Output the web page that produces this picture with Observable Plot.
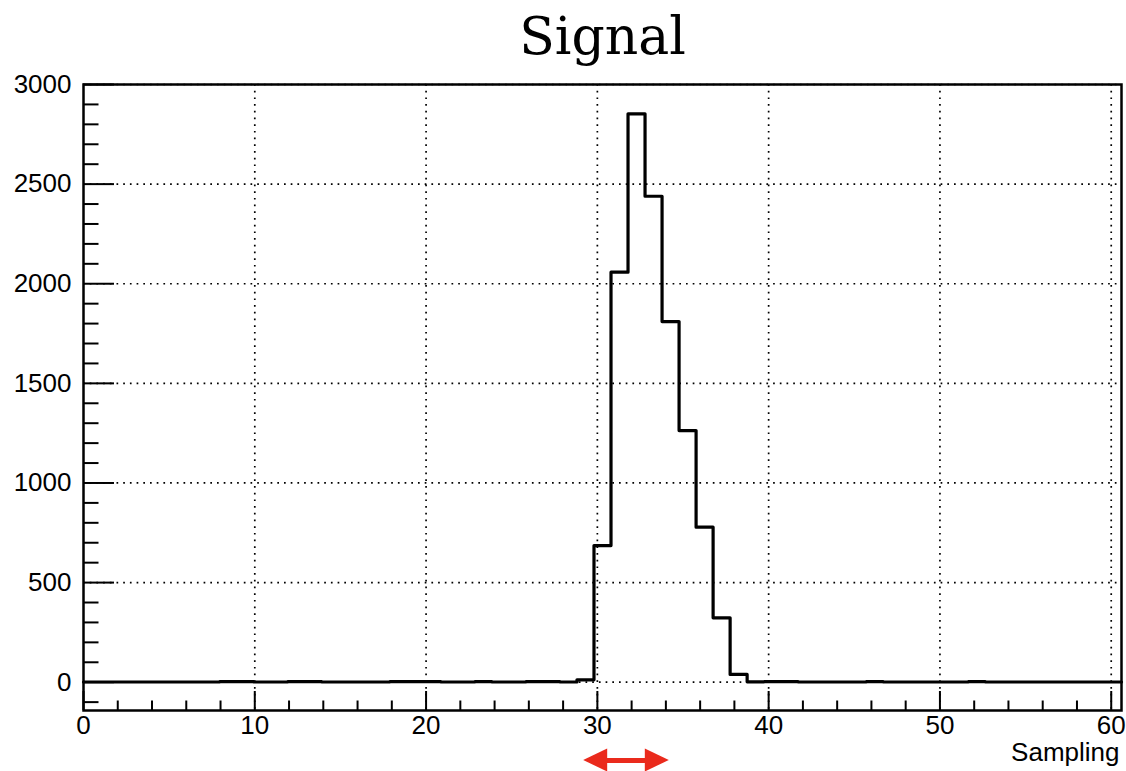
<!DOCTYPE html>
<html><head><meta charset="utf-8">
<script src="https://cdn.jsdelivr.net/npm/d3@7"></script>
<script src="https://cdn.jsdelivr.net/npm/@observablehq/plot@0.6"></script>
<style>html,body{margin:0;padding:0;background:#fff} svg{display:block}</style>
</head><body><div id="chart"></div>
<script>
// ---- data ----
const title = "Signal";
const xLabel = "Sampling";
// one count per sampling bin (61 bins spanning the x range)
const counts = [
  1, 1, 1, 1, 1, 1, 1, 1, 3, 3,
  1, 1, 3, 3, 1, 1, 1, 1, 3, 3,
  3, 1, 1, 3, 1, 1, 3, 3, 1, 12,
  686, 2058, 2853, 2439, 1810, 1263, 778, 323, 39, 2,
  3, 3, 1, 1, 1, 1, 3, 1, 1, 1,
  1, 1, 3, 1, 1, 1, 1, 1, 1, 1,
  1
];
const xRange = [0, 60.6];
const yRange = [-142, 3000];
const xMajorTicks = [0, 10, 20, 30, 40, 50, 60];
const yMajorTicks = [0, 500, 1000, 1500, 2000, 2500, 3000];
const xMinorStep = 2;
const yMinorStep = 100;
const arrowSpan = [29.2, 34.2]; // red double arrow under the axis (data units)

// ---- layout ----
const W = 1126, H = 771, mt = 84, mb = 61, ml = 83, mr = 5;
const plotW = W - ml - mr, plotH = H - mt - mb;
const red = "#ea2a1c";

const binW = (xRange[1] - xRange[0]) / counts.length;
const hist = counts.map((c, i) => ({x: xRange[0] + i * binW, y: c}));
hist.push({x: xRange[1], y: counts[counts.length - 1]});

const xMinor = d3.range(xRange[0] + xMinorStep, xRange[1], xMinorStep).filter(v => v % 10 !== 0);
const yMinor = d3.range(-yMinorStep, yRange[1], yMinorStep).filter(v => v % 500 !== 0 && v > yRange[0]);

const ys = Plot.scale({y: {domain: yRange, range: [H - mb, mt]}});
const xs = Plot.scale({x: {domain: xRange, range: [ml, W - mr]}});
const arrowY = ys.invert(760);
const headHalf = ys.invert(760 - 11.5) - arrowY;
const headLen = xs.invert(ml + 24) - xs.invert(ml);
const leftHead = [
  {x: arrowSpan[0], y1: arrowY, y2: arrowY},
  {x: arrowSpan[0] + headLen, y1: arrowY - headHalf, y2: arrowY + headHalf}
];
const rightHead = [
  {x: arrowSpan[1] - headLen, y1: arrowY - headHalf, y2: arrowY + headHalf},
  {x: arrowSpan[1], y1: arrowY, y2: arrowY}
];

const dots = {stroke: "black", strokeWidth: 1.7, strokeDasharray: "1.7,5"};

const chart = Plot.plot({
  width: W, height: H,
  marginTop: mt, marginBottom: mb, marginLeft: ml, marginRight: mr,
  x: {domain: xRange},
  y: {domain: yRange},
  style: {fontFamily: "'Liberation Sans', Arial, Helvetica, sans-serif", background: "white", color: "black"},
  marks: [
    // dotted grid
    Plot.ruleX(xMajorTicks.filter(v => v > xRange[0]), dots),
    Plot.ruleY(yMajorTicks, dots),
    // histogram outline
    Plot.line(hist, {x: "x", y: "y", curve: "step-after", stroke: "black", strokeWidth: 3.2}),
    // ticks (inside frame)
    Plot.ruleY(yMajorTicks, {insetRight: plotW - 31, stroke: "black", strokeWidth: 2}),
    Plot.ruleY(yMinor, {insetRight: plotW - 15.5, stroke: "black", strokeWidth: 2}),
    Plot.ruleX(xMajorTicks, {insetTop: plotH - 19, stroke: "black", strokeWidth: 2}),
    Plot.ruleX(xMinor, {insetTop: plotH - 9.5, stroke: "black", strokeWidth: 2}),
    Plot.frame({stroke: "black", strokeWidth: 2.5}),
    // tick labels
    Plot.axisY(yMajorTicks, {tickSize: 0, tickPadding: 12, fontSize: 26, label: null, tickFormat: d3.format("d")}),
    Plot.axisX(xMajorTicks, {tickSize: 0, tickPadding: 5, fontSize: 26, label: null, tickFormat: d3.format("d")}),
    // axis title
    Plot.text([xLabel], {frameAnchor: "bottom-right", textAnchor: "end", lineAnchor: "bottom", dx: -2, dy: 50, fontSize: 26}),
    // chart title
    Plot.text([title], {frameAnchor: "top", lineAnchor: "bottom", dy: -31, fontSize: 52, fontFamily: "'DejaVu Serif', serif", letterSpacing: 1.5}),
    // red double arrow
    Plot.ruleY([arrowY], {x1: arrowSpan[0] + headLen - 0.1, x2: arrowSpan[1] - headLen + 0.1, stroke: red, strokeWidth: 5}),
    Plot.areaY(leftHead, {x: "x", y1: "y1", y2: "y2", fill: red}),
    Plot.areaY(rightHead, {x: "x", y1: "y1", y2: "y2", fill: red})
  ]
});
document.getElementById("chart").appendChild(chart);
</script>
</body></html>
